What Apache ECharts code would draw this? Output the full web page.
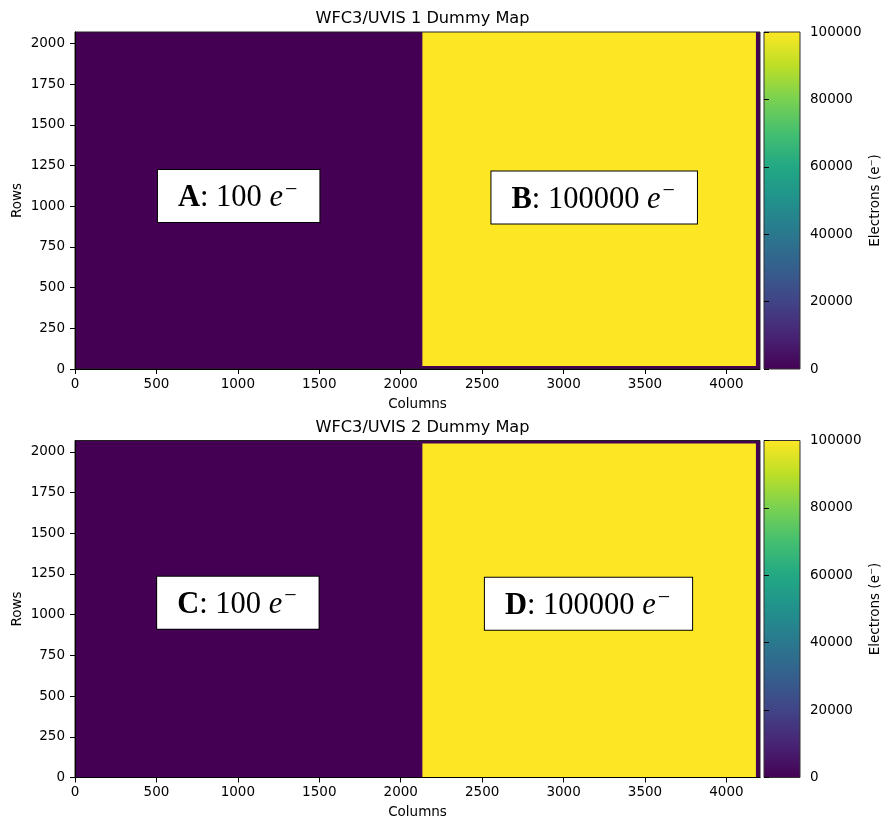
<!DOCTYPE html>
<html>
<head>
<meta charset="utf-8">
<title>WFC3/UVIS Dummy Maps</title>
<script src="https://cdn.jsdelivr.net/npm/echarts@6/dist/echarts.min.js"></script>
<style>
  html, body { margin: 0; padding: 0; background: #fff; }
  #chart { width: 883px; height: 820px; }
</style>
</head>
<body>
<div id="chart"></div>
<script>
// Detector frame size (raw WFC3/UVIS chip incl. prescan/overscan)
const FRAME_COLS = 4206;
const FRAME_ROWS = 2070;

// Tick values
const colTicks = [0, 500, 1000, 1500, 2000, 2500, 3000, 3500, 4000];
const rowTicks = [0, 250, 500, 750, 1000, 1250, 1500, 1750, 2000];
const electronTicks = [0, 20000, 40000, 60000, 80000, 100000];

// Regions: [col start, col end, row start, row end, electrons]
const uvis1Regions = [
  [0, 4206, 0, 2070, 0],
  [25, 2073, 19, 2070, 100],
  [2133, 4181, 19, 2070, 100000]
];
const uvis2Regions = [
  [0, 4206, 0, 2070, 0],
  [25, 2073, 0, 2051, 100],
  [2133, 4181, 0, 2051, 100000]
];

// Amplifier annotations: name, electrons, and anchor (column, row)
const uvis1AmpNames = ['A', 'B'];
const uvis1AmpElectrons = [100, 100000];
const uvis1AmpCol = [1005, 3188];
const uvis1AmpRow = [1063, 1053];

const uvis2AmpNames = ['C', 'D'];
const uvis2AmpElectrons = [100, 100000];
const uvis2AmpCol = [1000, 3153];
const uvis2AmpRow = [1074, 1067];

const ELECTRON_MAX = 100000;

// viridis
const viridis = ['#440154', '#482475', '#414487', '#355f8d', '#2a788e',
  '#21918c', '#22a884', '#44bf70', '#7ad151', '#bddf26', '#fde725'];

const FONT = 'DejaVu Sans';
const SERIF = 'Liberation Serif';
const TICK_FS = 13.5;
const BOX_FS = 30.5;
const plainNumber = v => String(v);

const panels = [
  { title: 'WFC3/UVIS 1 Dummy Map', regions: uvis1Regions,
    names: uvis1AmpNames, electrons: uvis1AmpElectrons, cols: uvis1AmpCol, rows: uvis1AmpRow, top: 32 },
  { title: 'WFC3/UVIS 2 Dummy Map', regions: uvis2Regions,
    names: uvis2AmpNames, electrons: uvis2AmpElectrons, cols: uvis2AmpCol, rows: uvis2AmpRow, top: 440.5 }
];

const MAP_LEFT = 75, MAP_W = 685, MAP_H = 337;
const CB_LEFT = 764, CB_W = 36;

const grid = [], xAxis = [], yAxis = [], series = [], title = [];

panels.forEach((p, i) => {
  grid.push({ left: MAP_LEFT, top: p.top, width: MAP_W, height: MAP_H, containLabel: false, outerBoundsMode: 'none' });
  grid.push({ left: CB_LEFT, top: p.top, width: CB_W, height: MAP_H, containLabel: false, outerBoundsMode: 'none' });

  title.push({
    text: p.title, left: MAP_LEFT + MAP_W / 2, top: p.top - 26, textAlign: 'center',
    textStyle: { fontFamily: FONT, fontSize: 16.2, fontWeight: 'normal', color: '#000' }
  });

  const tickStyle = { show: true, inside: false, length: 5, lineStyle: { color: '#000', width: 1 } };

  // map axes
  xAxis.push({
    type: 'value', gridIndex: 2 * i, min: 0, max: FRAME_COLS, z: 5,
    name: 'Columns', nameLocation: 'middle', nameGap: 28, nameMoveOverlap: false,
    nameTextStyle: { fontFamily: FONT, fontSize: TICK_FS, color: '#000' },
    axisLine: { show: true, onZero: false, lineStyle: { color: '#000', width: 1 } },
    axisTick: Object.assign({ customValues: colTicks }, tickStyle),
    axisLabel: { customValues: colTicks, formatter: plainNumber, fontFamily: FONT, fontSize: TICK_FS, color: '#000', margin: 8 },
    splitLine: { show: false }
  });
  yAxis.push({
    type: 'value', gridIndex: 2 * i, min: 0, max: FRAME_ROWS, z: 5,
    name: 'Rows', nameLocation: 'middle', nameGap: 51, nameMoveOverlap: false,
    nameTextStyle: { fontFamily: FONT, fontSize: TICK_FS, color: '#000' },
    axisLine: { show: true, onZero: false, lineStyle: { color: '#000', width: 1 } },
    axisTick: Object.assign({ customValues: rowTicks }, tickStyle),
    axisLabel: { customValues: rowTicks, formatter: plainNumber, fontFamily: FONT, fontSize: TICK_FS, color: '#000', margin: 10 },
    splitLine: { show: false }
  });
  // colorbar axes
  xAxis.push({
    type: 'value', gridIndex: 2 * i + 1, min: 0, max: 1, show: false
  });
  yAxis.push({
    type: 'value', gridIndex: 2 * i + 1, min: 0, max: ELECTRON_MAX, position: 'right', z: 5,
    name: 'Electrons (e\u207B)', nameLocation: 'middle', nameGap: 68, nameMoveOverlap: false,
    nameTextStyle: { fontFamily: FONT, fontSize: TICK_FS, color: '#000' },
    axisLine: { show: false },
    axisTick: Object.assign({ customValues: electronTicks }, tickStyle),
    axisLabel: { customValues: electronTicks, formatter: plainNumber, fontFamily: FONT, fontSize: TICK_FS, color: '#000', margin: 10 },
    splitLine: { show: false }
  });
});

// image regions
panels.forEach((p, i) => {
  series.push({
    type: 'custom', name: p.title, xAxisIndex: 2 * i, yAxisIndex: 2 * i, clip: true,
    data: p.regions,
    encode: { x: [0, 1], y: [2, 3] },
    renderItem: function (params, api) {
      const tl = api.coord([api.value(0), api.value(3)]);
      const br = api.coord([api.value(1), api.value(2)]);
      return {
        type: 'rect',
        shape: { x: tl[0], y: tl[1], width: br[0] - tl[0], height: br[1] - tl[1] },
        style: { fill: api.visual('color') }
      };
    },
    z: 2
  });
});

// frame outlines around each map
panels.forEach((p, i) => {
  series.push({
    type: 'custom', xAxisIndex: 2 * i, yAxisIndex: 2 * i, silent: true,
    data: [[0, FRAME_COLS, 0, FRAME_ROWS]],
    renderItem: function (params, api) {
      const tl = api.coord([api.value(0), api.value(3)]);
      const br = api.coord([api.value(1), api.value(2)]);
      return {
        type: 'rect',
        shape: { x: tl[0], y: tl[1], width: br[0] - tl[0], height: br[1] - tl[1] },
        style: { fill: null, stroke: '#222', lineWidth: 1 }
      };
    },
    z: 4
  });
});

// amplifier annotations
panels.forEach((p, i) => {
  const data = p.names.map((n, k) => ({ value: [p.cols[k], p.rows[k]], name: n, electrons: p.electrons[k] }));
  series.push({
    type: 'scatter', xAxisIndex: 2 * i, yAxisIndex: 2 * i, symbolSize: 0, silent: true,
    itemStyle: { opacity: 1 },
    data: data,
    label: {
      show: true, position: 'inside', opacity: 1,
      formatter: function (prm) {
        return '{b|' + prm.data.name + '}{r|: ' + prm.data.electrons + ' }{i|e}{s|\u2212}';
      },
      backgroundColor: '#fff', borderColor: '#000', borderWidth: 1,
      padding: [9, 22, 4, 20],
      lineHeight: 39,
      rich: {
        b: { fontFamily: SERIF, fontWeight: 'bold', fontSize: BOX_FS, color: '#000', lineHeight: 39 },
        r: { fontFamily: SERIF, fontSize: BOX_FS, color: '#000', lineHeight: 39 },
        i: { fontFamily: SERIF, fontStyle: 'italic', fontSize: BOX_FS, color: '#000', lineHeight: 39 },
        s: { fontFamily: SERIF, fontSize: 22, color: '#000', verticalAlign: 'top', lineHeight: 39, padding: [0, 0, 14, 2] }
      }
    },
    z: 6
  });
});

// colorbars
panels.forEach((p, i) => {
  series.push({
    type: 'custom', xAxisIndex: 2 * i + 1, yAxisIndex: 2 * i + 1, silent: true,
    data: [[0, 1, 0, ELECTRON_MAX]],
    encode: { x: [0, 1], y: [2, 3] },
    renderItem: function (params, api) {
      const tl = api.coord([api.value(0), api.value(3)]);
      const br = api.coord([api.value(1), api.value(2)]);
      return {
        type: 'rect',
        shape: { x: tl[0], y: tl[1], width: br[0] - tl[0], height: br[1] - tl[1] },
        style: {
          fill: {
            type: 'linear', x: 0, y: 1, x2: 0, y2: 0,
            colorStops: viridis.map((c, k) => ({ offset: k / (viridis.length - 1), color: c }))
          },
          stroke: '#333', lineWidth: 1
        }
      };
    },
    z: 2
  });
});

const chart = echarts.init(document.getElementById('chart'), null, { renderer: 'canvas' });
chart.setOption({
  animation: false,
  backgroundColor: '#fff',
  title: title,
  grid: grid,
  xAxis: xAxis,
  yAxis: yAxis,
  visualMap: {
    type: 'continuous', show: false, min: 0, max: ELECTRON_MAX, dimension: 4,
    seriesIndex: [0, 1],
    inRange: { color: viridis }
  },
  series: series
});
</script>
</body>
</html>
